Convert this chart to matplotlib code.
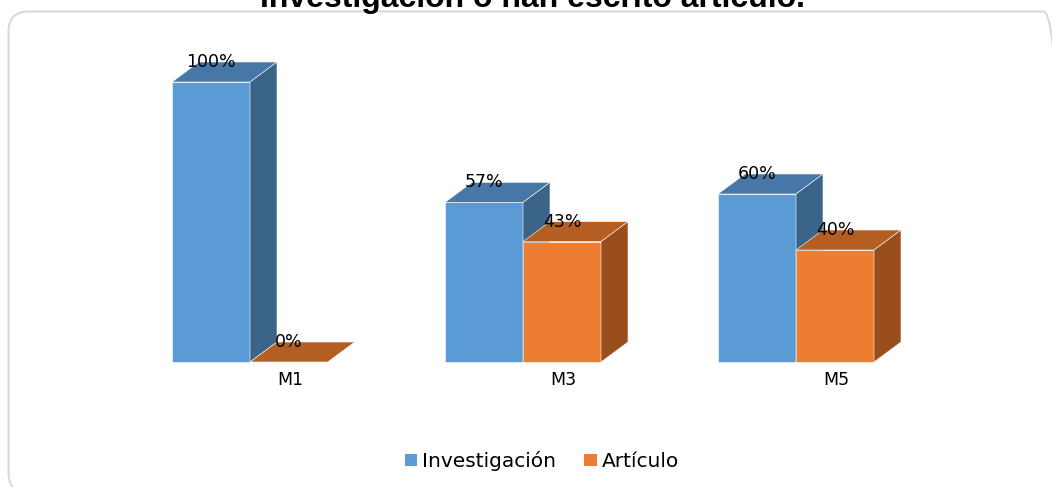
import matplotlib.pyplot as plt
from matplotlib.patches import Polygon, Patch, FancyBboxPatch

# data
categories = ["M1", "M3", "M5"]
series = ["Investigación", "Artículo"]
investigacion = [100, 57, 60]
articulo = [0, 43, 40]
title = "Investigación o han escrito artículo."

front = ["#5b9bd5", "#ed7d31"]
top = ["#4677a6", "#b55e23"]
side = ["#3a6488", "#9a4e1c"]

W, H = 1052, 487
fig = plt.figure(figsize=(W / 100, H / 100), dpi=100)
plt.rcParams['font.family'] = ['DejaVu Sans']

# rounded border box (pixel units), runs past the right and bottom edges
fig.patches.append(FancyBboxPatch((8.5, -6), 1055, 481.5,
                                  boxstyle="round,pad=0,rounding_size=20",
                                  transform=None, fill=False,
                                  ec="#d9d9d9", lw=1.5))

ax = fig.add_axes([0, 0, 1, 1])
ax.set_xlim(-250 / 273, (W - 250) / 273)
ax.set_ylim(-125 / 2.8, (H - 125) / 2.8)
ax.axis("off")

bw = 78 / 273
dx = 27 / 273
dy = 20 / 2.8


def bar3d(x0, h, k):
    x1 = x0 + bw
    ax.add_patch(Polygon([(x0, 0), (x1, 0), (x1, h), (x0, h)], closed=True,
                         fc=front[k], ec="#ffffff", lw=0.4))
    ax.add_patch(Polygon([(x0, h), (x1, h), (x1 + dx, h + dy), (x0 + dx, h + dy)],
                         closed=True, fc=top[k], ec="#ffffff", lw=0.4))
    ax.add_patch(Polygon([(x1, 0), (x1 + dx, dy), (x1 + dx, h + dy), (x1, h)],
                         closed=True, fc=side[k], ec="#ffffff", lw=0.4))
    ax.text(x0 + bw / 2, h + dy, f"{h}%", ha="center", va="center", fontsize=12.5)


for i, cat in enumerate(categories):
    bar3d(i - bw, investigacion[i], 0)
    bar3d(i, articulo[i], 1)
    ax.text(i + 40 / 273, -18 / 2.8, cat, ha="center", va="center", fontsize=12.5)

fig.text(533 / W, 1 - 7 / H, title, ha="center", va="baseline", fontsize=23,
         fontweight="bold", family="Liberation Sans")

handles = [Patch(fc=front[0]), Patch(fc=front[1])]
fig.legend(handles, series, loc="center", bbox_to_anchor=(542 / W, 1 - 461 / H),
           ncol=2, frameon=False, fontsize=14.5, handlelength=0.6, handleheight=0.6,
           handletextpad=0.25, columnspacing=1.4)

fig.savefig("out.png", dpi=100)
